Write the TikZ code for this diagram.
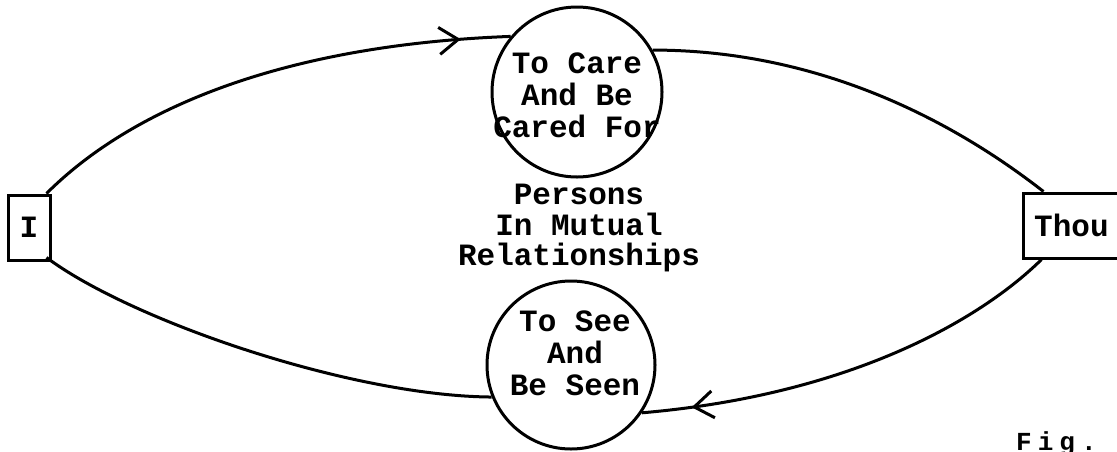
\documentclass[tikz,border=0pt]{standalone}
\usepackage{fontspec}
\setmonofont{Liberation Mono}
\usetikzlibrary{arrows.meta,decorations.markings}
\tikzset{
  ink/.style={line width=3pt, draw=black},
  box/.style={ink, rectangle, inner sep=0pt},
  ring/.style={ink, circle, inner sep=0pt, minimum size=170pt},
  type/.style={font=\ttfamily\bfseries\fontsize{31}{32}\selectfont, align=center, inner sep=0pt},
  link/.style={ink},
  midarrow/.style={postaction={decorate}, decoration={markings,
      mark=at position #1 with {\arrow{Straight Barb[length=19pt,width=27pt,line width=3pt]}}}},
}
\newcommand{\spaced}{\kern6pt}
\begin{document}
\begin{tikzpicture}[x=1pt,y=-1pt]
\useasboundingbox (0,0) rectangle (1117,451);
\clip (0,0) rectangle (1117,451);

% the two persons
\node[box, minimum width=42pt, minimum height=65pt, type] (I) at (29,227.5) {I};
\node[box, minimum width=104pt, minimum height=65pt] (thou) at (1075,225.5) {};
\node[type, anchor=west] (thoutext) at (1034,225) {Thou};

% the two relations
\node[ring] (care) at (577,92) {};
\node[type] (caretext) at (577,95) {To Care\\And Be\\Cared For};
\node[ring, minimum size=168pt] (see) at (571,365) {};
\node[type] (seetext) at (575,353) {To See\\And\\Be Seen};

% centre caption
\node[type, font=\ttfamily\bfseries\fontsize{31}{30.5}\selectfont] (persons) at (579,228)
  {Persons\\In Mutual\\Relationships};

% figure number, letter-spaced, on the lower edge
\node[font=\ttfamily\bfseries\fontsize{26}{26}\selectfont, anchor=base west, inner sep=0pt]
  (fig) at (1016,450) {F\spaced i\spaced g\spaced .\spaced\ \spaced 1};

% connectors
\draw[link, midarrow=0.9] ([xshift=-5pt]I.north east)
  .. controls (130,110) and (280,45) .. (care.140);
\draw[link] (care.29)
  .. controls (850,50) and (990,150) .. ([xshift=22pt]thou.north west);
\draw[link, midarrow=0.885] ([xshift=20pt]thou.south west)
  .. controls (980,320) and (850,395) .. (see.-34);
\draw[link] (see.-158)
  .. controls (350,396) and (130,320) .. ([xshift=-5pt,yshift=4pt]I.south east);
\end{tikzpicture}
\end{document}
